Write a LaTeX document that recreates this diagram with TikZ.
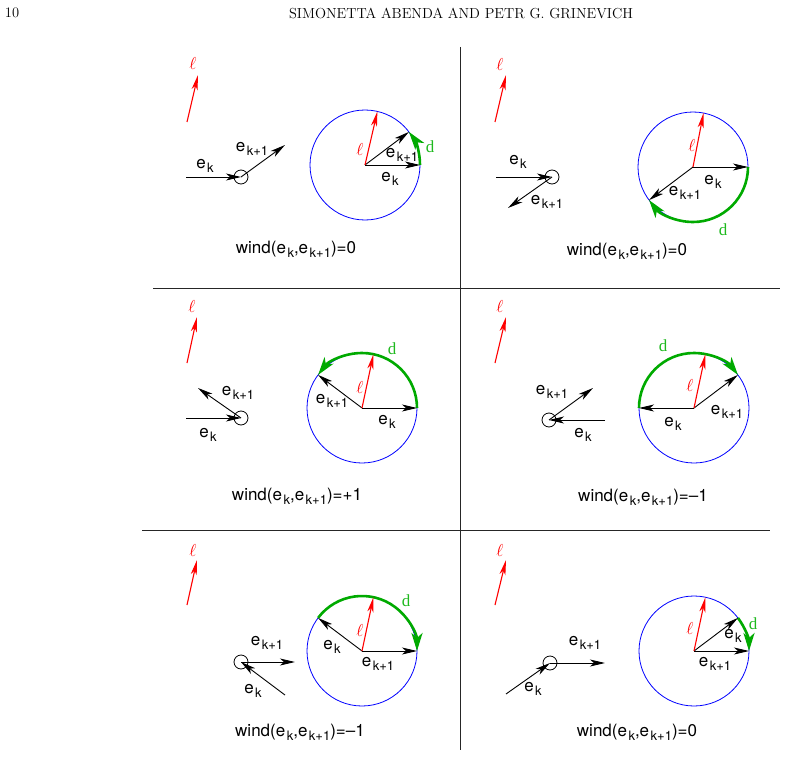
\documentclass[tikz,border=0pt]{standalone}
\usepackage{fontspec}
\setsansfont{TeX Gyre Heros}
\newfontfamily\tmsfont{Liberation Serif}
\usetikzlibrary{arrows.meta,calc}
\definecolor{dgreen}{RGB}{0,170,0}
\definecolor{lgreen}{RGB}{30,185,30}
\newcommand\ee[1]{e\kern1.5pt\raisebox{-4pt}{\fontsize{13}{13}\selectfont #1}}
\begin{document}
\begin{tikzpicture}[x=1pt,y=-1pt,
  blk/.style={line width=0.9pt,-{Stealth[length=15pt,width=7pt,inset=4pt]}},
  redarr/.style={red,line width=1.1pt,-{Stealth[length=15pt,width=6pt,inset=4pt]}},
  grn/.style={dgreen,line width=2.6pt,-{Stealth[length=18pt,width=11pt,inset=5pt]}},
  bigc/.style={blue,line width=0.8pt},
  smallc/.style={circle,draw,line width=0.8pt,minimum size=14pt,inner sep=0pt},
  lab/.style={font=\sffamily\fontsize{17}{17}\selectfont,inner sep=0pt},
  ell/.style={red,font=\fontsize{17}{17}\selectfont,inner sep=0pt},
  dlab/.style={lgreen,font=\tmsfont\fontsize{17}{17}\selectfont,inner sep=0pt},
  sep/.style={line width=0.9pt,black!85}]
\useasboundingbox (0,0) rectangle (787,757);
% header
\node[inner sep=0pt,font=\fontsize{14.5}{14.5}\selectfont] (pg) at (12,13) {10};
\node[inner sep=0pt,font=\fontsize{14.5}{14.5}\selectfont] (hd) at (461,13) {SIMONETTA ABENDA AND PETR G. GRINEVICH};
% separators
\coordinate (v1) at (460,47); \coordinate (v2) at (460,750);
\coordinate (h1a) at (153,288); \coordinate (h1b) at (780,288);
\coordinate (h2a) at (142,530); \coordinate (h2b) at (770,530);
\draw[sep] (v1) -- (v2);
\draw[sep] (h1a) -- (h1b);
\draw[sep] (h2a) -- (h2b);

% ================= Panel 1 =================
\coordinate (r1a) at (187,122); \coordinate (r1b) at (198,75);
\draw[redarr] (r1a) -- (r1b);
\node[ell] (rl1) at (193,64) {$\ell$};
\node[smallc] (p1) at (241,177) {};
\coordinate (a1) at (186,177); \coordinate (b1) at (285,145);
\draw[blk] (a1) -- (p1.center);
\draw[blk] (p1.center) -- (b1);
\node[lab] (la1) at (205,166) {\ee{k}};
\node[lab] (lb1) at (252,149) {\ee{k+1}};
\coordinate (C1) at (365,165);
\draw[bigc] (C1) circle[radius=55];
\coordinate (K1) at ([shift={(C1)}]0:55);
\coordinate (N1) at ([shift={(C1)}]-37:55);
\coordinate (L1) at ([shift={(C1)}]-77:55);
\draw[grn] (K1) arc[start angle=0,end angle=-37,radius=55];
\draw[blk] (C1) -- (K1);
\draw[blk] (C1) -- (N1);
\draw[redarr] (C1) -- (L1);
\node[ell] (bl1) at (360,150) {$\ell$};
\node[lab] (bk1) at (390,179) {\ee{k}};
\node[lab] (bn1) at (402,155) {\ee{k+1}};
\node[dlab] (d1) at (430,147) {d};
\node[lab] (w1) at (296,249) {wind(\ee{k},\ee{k+1})=0};

% ================= Panel 2 =================
\coordinate (r2a) at (495,122); \coordinate (r2b) at (506,75);
\draw[redarr] (r2a) -- (r2b);
\node[ell] (rl2) at (500,65) {$\ell$};
\node[smallc] (p2) at (552,177) {};
\coordinate (a2) at (496,177); \coordinate (b2) at (508,208);
\draw[blk] (a2) -- (p2.center);
\draw[blk] (p2.center) -- (b2);
\node[lab] (la2) at (518,162) {\ee{k}};
\node[lab] (lb2) at (547,202) {\ee{k+1}};
\coordinate (C2) at (693,167);
\draw[bigc] (C2) circle[radius=55];
\coordinate (K2) at ([shift={(C2)}]0:55);
\coordinate (N2) at ([shift={(C2)}]143:55);
\coordinate (L2) at ([shift={(C2)}]-79:55);
\draw[grn] (K2) arc[start angle=0,end angle=143,radius=55];
\draw[blk] (C2) -- (K2);
\draw[blk] (C2) -- (N2);
\draw[redarr] (C2) -- (L2);
\node[ell] (bl2) at (692,145) {$\ell$};
\node[lab] (bk2) at (713,182) {\ee{k}};
\node[lab] (bn2) at (685,193) {\ee{k+1}};
\node[dlab] (d2) at (723,230) {d};
\node[lab] (w2) at (627,251) {wind(\ee{k},\ee{k+1})=0};

% ================= Panel 3 =================
\coordinate (r3a) at (187,363); \coordinate (r3b) at (197,317);
\draw[redarr] (r3a) -- (r3b);
\node[ell] (rl3) at (192,306) {$\ell$};
\node[smallc] (p3) at (241,418) {};
\coordinate (a3) at (186,418); \coordinate (b3) at (198,388);
\draw[blk] (a3) -- (p3.center);
\draw[blk] (p3.center) -- (b3);
\node[lab] (la3) at (208,435) {\ee{k}};
\node[lab] (lb3) at (238,393) {\ee{k+1}};
\coordinate (C3) at (362,408);
\draw[bigc] (C3) circle[radius=55];
\coordinate (K3) at ([shift={(C3)}]0:55);
\coordinate (N3) at ([shift={(C3)}]-143:55);
\coordinate (L3) at ([shift={(C3)}]-78:55);
\draw[grn] (K3) arc[start angle=0,end angle=-143,radius=55];
\draw[blk] (C3) -- (K3);
\draw[blk] (C3) -- (N3);
\draw[redarr] (C3) -- (L3);
\node[ell] (bl3) at (360,387) {$\ell$};
\node[lab] (bk3) at (387,422) {\ee{k}};
\node[lab] (bn3) at (332,401) {\ee{k+1}};
\node[dlab] (d3) at (392,349) {d};
\node[lab] (w3) at (297,496) {wind(\ee{k},\ee{k+1})=+1};

% ================= Panel 4 =================
\coordinate (r4a) at (495,363); \coordinate (r4b) at (506,317);
\draw[redarr] (r4a) -- (r4b);
\node[ell] (rl4) at (500,306) {$\ell$};
\node[smallc] (p4) at (549,420) {};
\coordinate (a4) at (605,420); \coordinate (b4) at (593,388);
\draw[blk] (a4) -- (p4.center);
\draw[blk] (p4.center) -- (b4);
\node[lab] (la4) at (583,435) {\ee{k}};
\node[lab] (lb4) at (552,392) {\ee{k+1}};
\coordinate (C4) at (694,408);
\draw[bigc] (C4) circle[radius=55];
\coordinate (K4) at ([shift={(C4)}]180:55);
\coordinate (N4) at ([shift={(C4)}]-37:55);
\coordinate (L4) at ([shift={(C4)}]-78:55);
\draw[grn] (K4) arc[start angle=180,end angle=323,radius=55];
\draw[blk] (C4) -- (K4);
\draw[blk] (C4) -- (N4);
\draw[redarr] (C4) -- (L4);
\node[ell] (bl4) at (690,385) {$\ell$};
\node[lab] (bk4) at (673,424) {\ee{k}};
\node[lab] (bn4) at (727,412) {\ee{k+1}};
\node[dlab] (d4) at (663,346) {d};
\node[lab] (w4) at (643,497) {wind(\ee{k},\ee{k+1})=\textendash1};

% ================= Panel 5 =================
\coordinate (r5a) at (187,605); \coordinate (r5b) at (197,560);
\draw[redarr] (r5a) -- (r5b);
\node[ell] (rl5) at (193,550) {$\ell$};
\node[smallc] (p5) at (241,662) {};
\coordinate (a5) at (285,695); \coordinate (b5) at (295,662);
\draw[blk] (a5) -- (p5.center);
\draw[blk] (p5.center) -- (b5);
\node[lab] (la5) at (253,691) {\ee{k}};
\node[lab] (lb5) at (267,643) {\ee{k+1}};
\coordinate (C5) at (362,651);
\draw[bigc] (C5) circle[radius=55];
\coordinate (K5) at ([shift={(C5)}]-143:55);
\coordinate (N5) at ([shift={(C5)}]0:55);
\coordinate (L5) at ([shift={(C5)}]-78:55);
\draw[grn] (K5) arc[start angle=-143,end angle=0,radius=55];
\draw[blk] (C5) -- (K5);
\draw[blk] (C5) -- (N5);
\draw[redarr] (C5) -- (L5);
\node[ell] (bl5) at (360,630) {$\ell$};
\node[lab] (bk5) at (332,647) {\ee{k}};
\node[lab] (bn5) at (378,664) {\ee{k+1}};
\node[dlab] (d5) at (406,601) {d};
\node[lab] (w5) at (300,732) {wind(\ee{k},\ee{k+1})=\textendash1};

% ================= Panel 6 =================
\coordinate (r6a) at (495,605); \coordinate (r6b) at (506,560);
\draw[redarr] (r6a) -- (r6b);
\node[ell] (rl6) at (500,550) {$\ell$};
\node[smallc] (p6) at (550,663) {};
\coordinate (a6) at (506,694); \coordinate (b6) at (605,663);
\draw[blk] (a6) -- (p6.center);
\draw[blk] (p6.center) -- (b6);
\node[lab] (la6) at (533,689) {\ee{k}};
\node[lab] (lb6) at (585,643) {\ee{k+1}};
\coordinate (C6) at (694,651);
\draw[bigc] (C6) circle[radius=55];
\coordinate (K6) at ([shift={(C6)}]-37:55);
\coordinate (N6) at ([shift={(C6)}]0:55);
\coordinate (L6) at ([shift={(C6)}]-78:55);
\draw[grn] (K6) arc[start angle=-37,end angle=0,radius=55];
\draw[blk] (C6) -- (K6);
\draw[blk] (C6) -- (N6);
\draw[redarr] (C6) -- (L6);
\node[ell] (bl6) at (690,628) {$\ell$};
\node[lab] (bk6) at (733,636) {\ee{k}};
\node[lab] (bn6) at (715,664) {\ee{k+1}};
\node[dlab] (d6) at (753,624) {d};
\node[lab] (w6) at (637,732) {wind(\ee{k},\ee{k+1})=0};
\end{tikzpicture}
\end{document}
